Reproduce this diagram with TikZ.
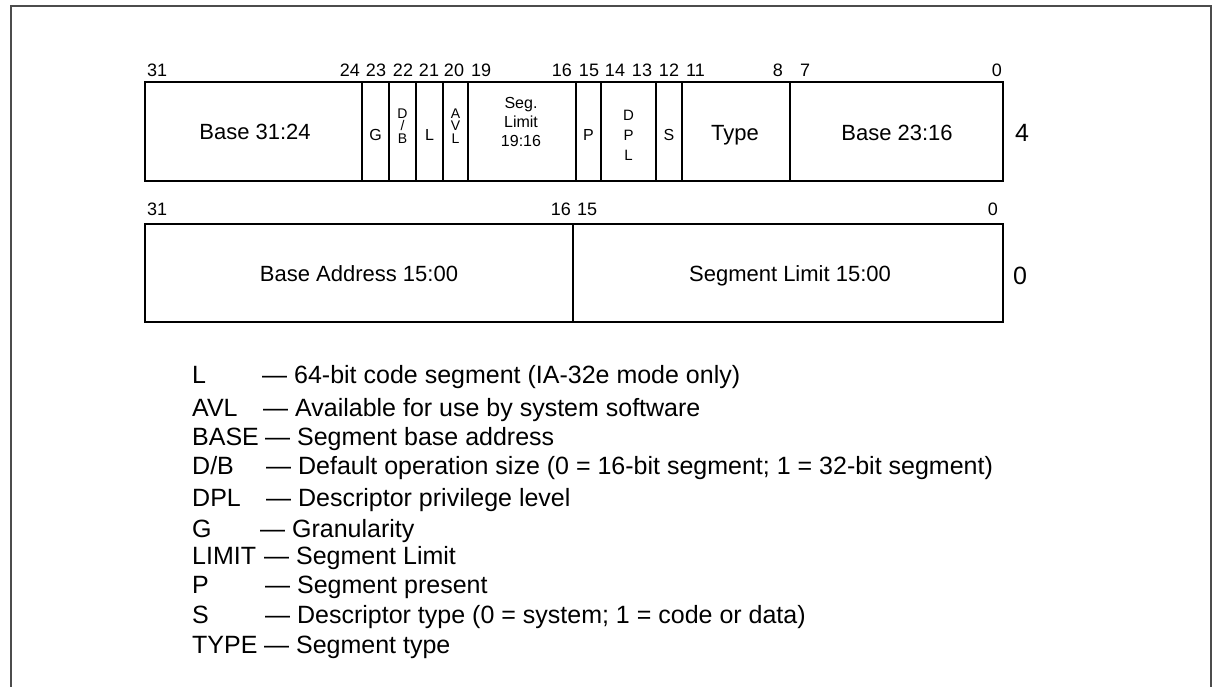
\documentclass[tikz,border=0pt]{standalone}
\usepackage{fontspec}
\setmainfont{Liberation Sans}
\usetikzlibrary{math}

\begin{document}
\begin{tikzpicture}[x=1pt, y=-1pt,
    field/.style={font=\fontsize{22}{24}\selectfont, inner sep=0pt, anchor=base},
    thin field/.style={font=\fontsize{16}{12}\selectfont, inner sep=0pt, align=center},
    stacked/.style={thin field, font={\fontsize{14}{12.5}\selectfont\lineskiplimit=-20pt\relax}},
    bitno/.style={font=\fontsize{18}{18}\selectfont, inner sep=0pt},
    dword/.style={font=\fontsize{25}{25}\selectfont, inner sep=0pt, anchor=base},
    legend/.style={font=\fontsize{25}{30}\selectfont, inner sep=0pt, anchor=base west}]
  \tikzmath{\l = 145; \r = 1003;}
  \tikzmath{\ta = 82; \tb = 181;}  % upper dword, top and bottom
  \tikzmath{\ba = 224; \bb = 322;} % lower dword, top and bottom

  \useasboundingbox (0,0) rectangle (1216,687);

  % frame, open at the bottom
  \draw[line width=2pt, black!70] (11,687) -- (11,6) -- (1211,6) -- (1211,687);

  % upper dword
  \draw[line width=1.3pt] (\l,\ta) rectangle (\r,\tb);
  \foreach \x in {362,389,416,443,468,576,601,656,682,790}
    \draw[line width=1.3pt] (\x,\ta) -- (\x,\tb);

  % lower dword
  \draw[line width=1.3pt] (\l,\ba) rectangle (\r,\bb);
  \draw[line width=1.3pt] (573,\ba) -- (573,\bb);

  % bit numbers, upper dword
  \node[bitno, anchor=base west] (u31) at (147,76.5) {31};
  \node[bitno, anchor=base east] (u24) at (360,76.5) {24};
  \node[bitno, anchor=base] (u23) at (376,76.5) {23};
  \node[bitno, anchor=base] (u22) at (403,76.5) {22};
  \node[bitno, anchor=base] (u21) at (429,76.5) {21};
  \node[bitno, anchor=base] (u20) at (454,76.5) {20};
  \node[bitno, anchor=base west] (u19) at (471,76.5) {19};
  \node[bitno, anchor=base east] (u16) at (572,76.5) {16};
  \node[bitno, anchor=base] (u15) at (589,76.5) {15};
  \node[bitno, anchor=base] (u14) at (615,76.5) {14};
  \node[bitno, anchor=base] (u13) at (642,76.5) {13};
  \node[bitno, anchor=base] (u12) at (669,76.5) {12};
  \node[bitno, anchor=base west] (u11) at (686,76.5) {11};
  \node[bitno, anchor=base east] (u8) at (783,76.5) {8};
  \node[bitno, anchor=base west] (u7) at (800,76.5) {7};
  \node[bitno, anchor=base east] (u0) at (1002,76.5) {0};

  % bit numbers, lower dword
  \node[bitno, anchor=base west] (l31) at (147,215.5) {31};
  \node[bitno, anchor=base east] (l16) at (571,215.5) {16};
  \node[bitno, anchor=base west] (l15) at (577,215.5) {15};
  \node[bitno, anchor=base east] (l0) at (998,215.5) {0};

  % upper dword fields
  \node[field] (basehi) at (255,140) {Base 31:24};
  \node[thin field, anchor=base] (g) at (375.5,141) {G};
  \node[stacked] (db) at (402.5,126) {D\\/\\B};
  \node[thin field, anchor=base] (l) at (429.5,141) {L};
  \node[stacked] (avl) at (455.5,126) {A\\V\\L};
  \node[thin field, font=\fontsize{16}{19}\selectfont] (seglim) at (521,122) {Seg.\\Limit\\19:16};
  \node[thin field, anchor=base] (p) at (588.5,141) {P};
  \node[thin field, font=\fontsize{15}{20}\selectfont] (dpl) at (628.5,135) {D\\P\\L};
  \node[thin field, anchor=base] (s) at (669,141) {S};
  \node[field] (type) at (735,141) {Type};
  \node[field] (basemid) at (897,141) {Base 23:16};
  \node[dword] (dw4) at (1022,142) {4};

  % lower dword fields
  \node[field] (baselo) at (359,281) {Base Address 15:00};
  \node[field] (limlo) at (790,281) {Segment Limit 15:00};
  \node[dword] (dw0) at (1020,284) {0};

  % key
  \node[legend] (kL) at (192,383) {L};
  \node[legend] (dL) at (262,383) {— 64-bit code segment (IA-32e mode only)};
  \node[legend] (kAVL) at (192,416) {AVL};
  \node[legend] (dAVL) at (263,416) {— Available for use by system software};
  \node[legend] (kBASE) at (192,445) {BASE};
  \node[legend] (dBASE) at (265,445) {— Segment base address};
  \node[legend] (kDB) at (192,474) {D/B};
  \node[legend] (dDB) at (266,474) {— Default operation size (0 = 16-bit segment; 1 = 32-bit segment)};
  \node[legend] (kDPL) at (192,506) {DPL};
  \node[legend] (dDPL) at (266,506) {— Descriptor privilege level};
  \node[legend] (kG) at (192,537) {G};
  \node[legend] (dG) at (260,537) {— Granularity};
  \node[legend] (kLIMIT) at (192,564) {LIMIT};
  \node[legend] (dLIMIT) at (264,564) {— Segment Limit};
  \node[legend] (kP) at (192,593) {P};
  \node[legend] (dP) at (265,593) {— Segment present};
  \node[legend] (kS) at (192,623) {S};
  \node[legend] (dS) at (265,623) {— Descriptor type (0 = system; 1 = code or data)};
  \node[legend] (kTYPE) at (192,653) {TYPE};
  \node[legend] (dTYPE) at (264,653) {— Segment type};
\end{tikzpicture}
\end{document}
